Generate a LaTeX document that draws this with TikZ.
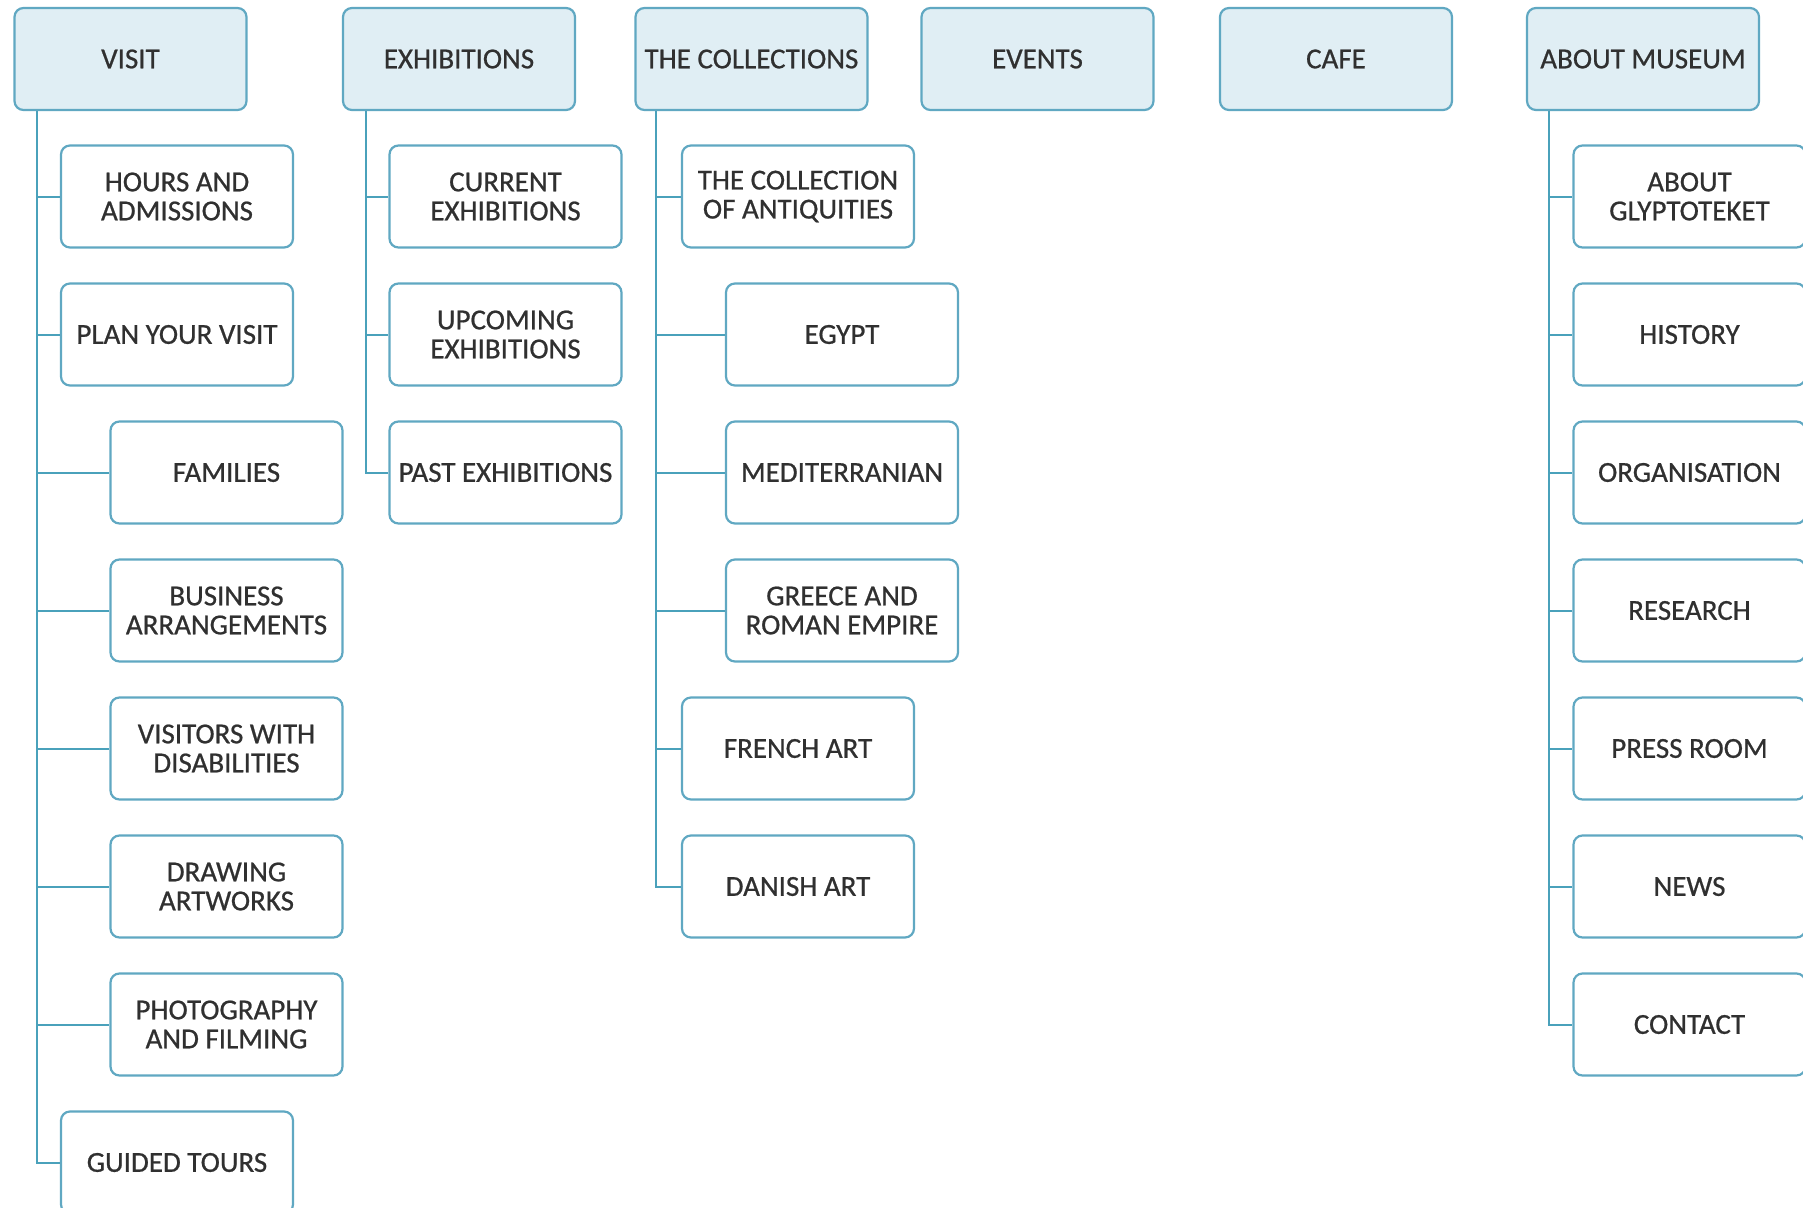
\documentclass[tikz,border=0pt]{standalone}
\usepackage{fontspec}
\setmainfont{Carlito}
\newfontfamily\lblfont{Carlito}[FakeBold=0.7]
\definecolor{edge}{RGB}{96,168,194}
\definecolor{linec}{RGB}{74,161,187}
\definecolor{topfill}{RGB}{224,238,244}
\definecolor{txt}{RGB}{48,48,48}
\tikzset{
  box/.style={draw=edge, line width=2.2pt, rounded corners=9pt, minimum width=232pt, minimum height=102pt,
    inner sep=2pt, align=center, text=txt, font=\lblfont\fontsize{29}{29}\selectfont},
  topbox/.style={box, fill=topfill},
  subbox/.style={box, fill=white},
  link/.style={draw=linec, line width=2pt}
}
\begin{document}
\begin{tikzpicture}[x=1pt,y=-1pt]
\useasboundingbox[fill=white] (0,0) rectangle (1803,1207);
% top level
\node[topbox] (visit) at (130.5,59) {VISIT};
\node[topbox] (exh) at (459,59) {EXHIBITIONS};
\node[topbox] (coll) at (751.5,59) {THE COLLECTIONS};
\node[topbox] (events) at (1037.5,59) {EVENTS};
\node[topbox] (cafe) at (1336,59) {CAFE};
\node[topbox] (about) at (1643,59) {ABOUT MUSEUM};
% visit
\node[subbox] (hours) at (177,196.5) {HOURS AND\\ADMISSIONS};
\node[subbox] (plan) at (177,334.5) {PLAN YOUR VISIT};
\node[subbox] (families) at (226.5,472.5) {FAMILIES};
\node[subbox] (business) at (226.5,610.5) {BUSINESS\\ARRANGEMENTS};
\node[subbox] (visitors) at (226.5,748.5) {VISITORS WITH\\DISABILITIES};
\node[subbox] (drawing) at (226.5,886.5) {DRAWING\\ARTWORKS};
\node[subbox] (photo) at (226.5,1024.5) {PHOTOGRAPHY\\AND FILMING};
\node[subbox] (guided) at (177,1162.5) {GUIDED TOURS};
% exhibitions
\node[subbox] (current) at (505.5,196.5) {CURRENT\\EXHIBITIONS};
\node[subbox] (upcoming) at (505.5,334.5) {UPCOMING\\EXHIBITIONS};
\node[subbox] (past) at (505.5,472.5) {PAST EXHIBITIONS};
% collections
\node[subbox] (antiq) at (798,196.5) {THE COLLECTION\\OF ANTIQUITIES};
\node[subbox] (egypt) at (842,334.5) {EGYPT};
\node[subbox] (medit) at (842,472.5) {MEDITERRANIAN};
\node[subbox] (greece) at (842,610.5) {GREECE AND\\ROMAN EMPIRE};
\node[subbox] (french) at (798,748.5) {FRENCH ART};
\node[subbox] (danish) at (798,886.5) {DANISH ART};
% about
\node[subbox] (glypt) at (1689.5,196.5) {ABOUT\\GLYPTOTEKET};
\node[subbox] (history) at (1689.5,334.5) {HISTORY};
\node[subbox] (organ) at (1689.5,472.5) {ORGANISATION};
\node[subbox] (research) at (1689.5,610.5) {RESEARCH};
\node[subbox] (press) at (1689.5,748.5) {PRESS ROOM};
\node[subbox] (news) at (1689.5,886.5) {NEWS};
\node[subbox] (contact) at (1689.5,1024.5) {CONTACT};
% connectors
\foreach \c in {hours,plan,families,business,visitors,drawing,photo,guided}
  \draw[link] ([xshift=24pt]visit.south west) |- (\c.west);
\foreach \c in {current,upcoming,past}
  \draw[link] ([xshift=24pt]exh.south west) |- (\c.west);
\foreach \c in {antiq,egypt,medit,greece,french,danish}
  \draw[link] ([xshift=22pt]coll.south west) |- (\c.west);
\foreach \c in {glypt,history,organ,research,press,news,contact}
  \draw[link] ([xshift=23pt]about.south west) |- (\c.west);
\end{tikzpicture}
\end{document}
